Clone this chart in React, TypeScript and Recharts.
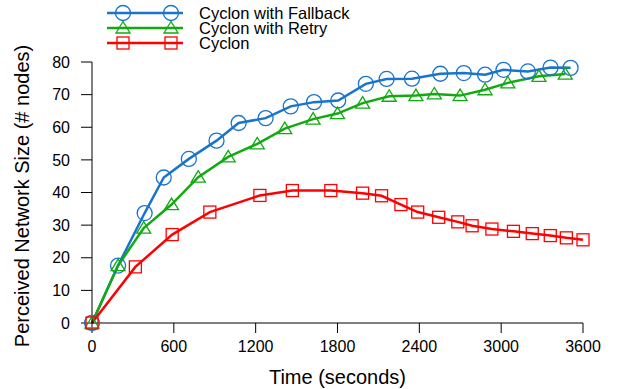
import { Line, LineChart, XAxis, YAxis, Label } from 'recharts';

// seconds / perceived size
const fallbackTimes = [0, 191, 386, 526, 710, 913, 1075, 1273, 1457, 1628, 1805, 2008, 2160, 2346, 2554, 2726, 2882, 3017, 3196, 3362, 3509];
const fallbackValues = [0, 17.6, 33.7, 44.6, 50.3, 55.9, 61.3, 62.8, 66.4, 67.7, 68.2, 73.3, 74.8, 74.9, 76.4, 76.6, 76.1, 77.6, 77.1, 78.3, 78.2];

const retryTimes = [0, 191, 379, 583, 779, 999, 1212, 1413, 1621, 1800, 1984, 2179, 2375, 2510, 2699, 2882, 3049, 3277, 3470];
const retryValues = [0, 17.6, 29.1, 36.3, 44.7, 50.9, 54.9, 59.6, 62.5, 64.2, 67.4, 69.5, 69.7, 70.2, 69.7, 71.5, 73.6, 75.6, 76.3];

const cyclonTimes = [0, 318, 588, 864, 1231, 1469, 1751, 1984, 2123, 2265, 2388, 2542, 2682, 2787, 2932, 3090, 3228, 3360, 3478, 3600];
const cyclonValues = [0, 17.2, 27.1, 34.0, 39.1, 40.6, 40.6, 39.8, 39.0, 36.3, 34.0, 32.4, 31.0, 29.8, 28.8, 28.1, 27.4, 26.8, 26.1, 25.5];

const xTicks = [0, 600, 1200, 1800, 2400, 3000, 3600];
const yTicks = [0, 10, 20, 30, 40, 50, 60, 70, 80];

const BLUE = '#1874cd';
const GREEN = '#11aa11';
const RED = '#ff0000';
const FONT = '"Liberation Sans", Arial, sans-serif';

const toPoints = (times: number[], values: number[]) => times.map((t, i) => ({ t, v: values[i] }));

const fallbackData = toPoints(fallbackTimes, fallbackValues);
const retryData = toPoints(retryTimes, retryValues);
const cyclonData = toPoints(cyclonTimes, cyclonValues);

type Shape = 'circle' | 'triangle' | 'square';

const marker = (shape: Shape, color: string, cx: number, cy: number, key?: string) => {
  if (shape === 'circle') {
    return <circle key={key} cx={cx} cy={cy} r={7.5} fill="none" stroke={color} strokeWidth={1.3} />;
  }
  if (shape === 'triangle') {
    const pts = `${cx},${cy - 6.5} ${cx - 7},${cy + 5} ${cx + 7},${cy + 5}`;
    return <polygon key={key} points={pts} fill="none" stroke={color} strokeWidth={1.3} />;
  }
  return <rect key={key} x={cx - 6} y={cy - 6} width={12} height={12} fill="none" stroke={color} strokeWidth={1.3} />;
};

const dotFor = (shape: Shape, color: string) => (props: any) =>
  marker(shape, color, props.cx, props.cy, `${shape}-${props.index}`);

const series = [
  { name: 'Cyclon with Fallback', color: BLUE, shape: 'circle' as Shape, data: fallbackData },
  { name: 'Cyclon with Retry', color: GREEN, shape: 'triangle' as Shape, data: retryData },
  { name: 'Cyclon', color: RED, shape: 'square' as Shape, data: cyclonData },
];

const KeyBox = () => (
  <svg width={400} height={55} style={{ position: 'absolute', left: 0, top: 0 }}>
    {series.map((s, i) => {
      const y = 13 + i * 15;
      return (
        <g key={s.name}>
          <line x1={107} x2={183} y1={y} y2={y} stroke={s.color} strokeWidth={2.5} />
          {marker(s.shape, s.color, 123, y)}
          {marker(s.shape, s.color, 171, y)}
          <text x={199} y={y} dominantBaseline="central" fontSize={16.5} fontFamily={FONT} fill="#000">
            {s.name}
          </text>
        </g>
      );
    })}
  </svg>
);

const App = (): React.ReactElement => (
  <div style={{ position: 'absolute', left: 0, top: 0, width: 618, height: 389, background: '#fff' }}>
    <LineChart width={618} height={389} margin={{ top: 62, right: 35, bottom: 16, left: 32 }}>
      <XAxis
        type="number"
        dataKey="t"
        domain={[0, 3600]}
        ticks={xTicks}
        height={50}
        tickSize={10}
        tickMargin={8}
        stroke="#000"
        tick={{ fill: '#000', fontSize: 16, fontFamily: FONT }}
      >
        <Label
          content={({ viewBox }: any) => (
            <text
              x={viewBox.x + viewBox.width / 2}
              y={viewBox.y + 61}
              textAnchor="middle"
              fontSize={20}
              fontFamily={FONT}
              fill="#000"
            >
              Time (seconds)
            </text>
          )}
        />
      </XAxis>
      <YAxis
        type="number"
        domain={[0, 80]}
        ticks={yTicks}
        width={60}
        tickSize={11}
        tickMargin={11}
        stroke="#000"
        tick={{ fill: '#000', fontSize: 16, fontFamily: FONT }}
      >
        <Label
          content={() => (
            <text
              x={29}
              y={196}
              transform="rotate(-90, 29, 196)"
              textAnchor="middle"
              fontSize={20}
              fontFamily={FONT}
              fill="#000"
            >
              Perceived Network Size (# nodes)
            </text>
          )}
        />
      </YAxis>
      {series.map((s) => (
        <Line
          key={s.name}
          data={s.data}
          dataKey="v"
          name={s.name}
          type="linear"
          stroke={s.color}
          strokeWidth={2.5}
          dot={dotFor(s.shape, s.color)}
          activeDot={false}
          isAnimationActive={false}
        />
      ))}
    </LineChart>
    <KeyBox />
  </div>
);

export default App;
